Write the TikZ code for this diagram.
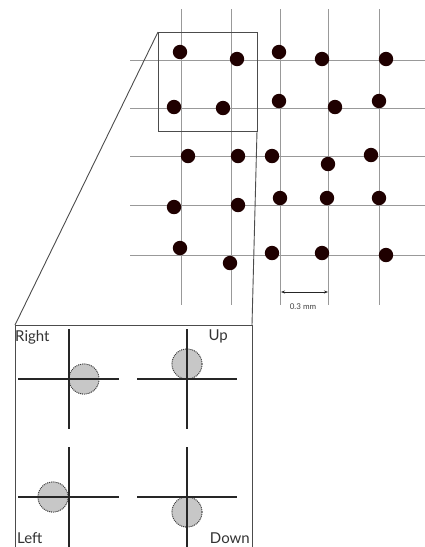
\documentclass[tikz,border=0pt]{standalone}
\usepackage{fontspec}
\setmainfont{Lato}
\usetikzlibrary{arrows.meta}
\begin{document}
\begin{tikzpicture}[x=1pt,y=-1pt,
  gridline/.style={draw=black!40, line width=0.8pt},
  dot/.style={fill=black!88!red},
  frame/.style={draw=black!70, line width=0.9pt},
  cross/.style={draw=black!85, line width=1.3pt},
  spot/.style={fill=black!22, draw=black!75, line width=0.9pt, densely dotted},
  lbl/.style={font=\fontsize{15}{15}\selectfont, text=black!80, inner sep=0pt}]
\useasboundingbox (0,0) rectangle (425,547);
% grid
\foreach \x in {181,231,280,328,379} \draw[gridline] (\x,9) -- (\x,305);
\foreach \y in {60,108,156,205,255} \draw[gridline] (130,\y) -- (425,\y);
% dots
\foreach \p in {(180,52),(237,59),(279,52),(322,59),(386,59),
                (174,107),(223,108),(279,101),(335,107),(379,101),
                (188,156),(238,156),(272,156),(328,164),(371,155),
                (174,207),(238,205),(280,198),(327,198),(379,198),
                (180,248),(230,263),(272,253),(322,253),(386,255)}
  \fill[dot] \p circle (7.2);
% zoom rectangle and box
\coordinate (zA) at (158,32);
\coordinate (zB) at (257,32);
\coordinate (zC) at (257,131);
\coordinate (zD) at (158,131);
\coordinate (bA) at (15,325);
\coordinate (bB) at (252,325);
\coordinate (bC) at (252,547);
\coordinate (bD) at (15,547);
\draw[frame] (zA) -- (zB) -- (zC) -- (zD) -- cycle;
\draw[frame] (zA) -- (bA);
\draw[frame] (zC) -- (bB);
\draw[frame] (bD) -- (bA) -- (bB) -- (bC);
% scale bar
\coordinate (s1) at (281,292);
\coordinate (s2) at (328,292);
\draw[black!85, line width=0.8pt, {Stealth[length=4pt,width=3pt]}-{Stealth[length=4pt,width=3pt]}] (s1) -- (s2);
\node[font=\fontsize{8}{8}\selectfont, text=black!75, inner sep=0pt] (scl) at (303,307) {0.3 mm};
% crosshairs
\fill[spot] (84,379) circle (15);
\fill[spot] (187,364) circle (15);
\fill[spot] (53,497) circle (15);
\fill[spot] (187,512) circle (15);
\draw[spot] (84,379) circle (15);
\draw[spot] (187,364) circle (15);
\draw[spot] (53,497) circle (15);
\draw[spot] (187,512) circle (15);
\draw[cross] (69,329) -- (69,429) (18,379) -- (119,379);
\draw[cross] (187,329) -- (187,429) (137,379) -- (237,379);
\draw[cross] (69,447) -- (69,547) (18,497) -- (119,497);
\draw[cross] (187,447) -- (187,547) (137,497) -- (237,497);
% labels
\node[lbl, anchor=base west] (lr) at (15,341) {Right};
\node[lbl, anchor=base east] (lu) at (228,340) {Up};
\node[lbl, anchor=base west] (ll) at (17,543) {Left};
\node[lbl, anchor=base east] (ld) at (250,543) {Down};
\end{tikzpicture}
\end{document}
